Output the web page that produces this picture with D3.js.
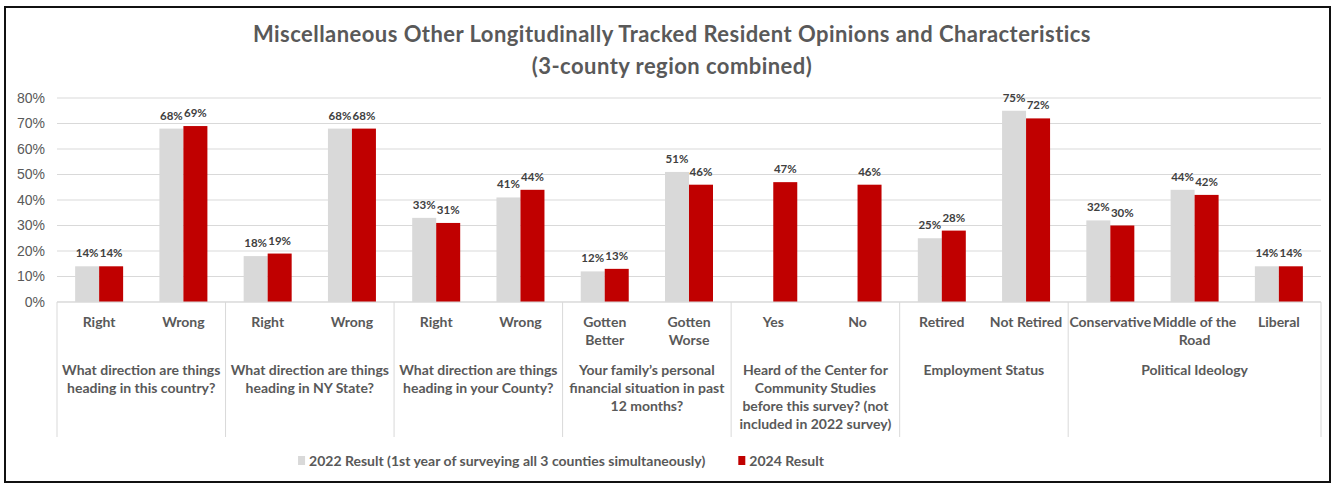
<!DOCTYPE html>
<html>
<head>
<meta charset="utf-8">
<script src="https://cdn.jsdelivr.net/npm/d3@7"></script>
<style>
  body { margin: 0; background: #fff; }
  svg { display: block; }
</style>
</head>
<body>
<script>
// ---- data ----
const categories = ["Right", "Wrong", "Right", "Wrong", "Right", "Wrong",
  "Gotten\nBetter", "Gotten\nWorse", "Yes", "No", "Retired", "Not Retired",
  "Conservative", "Middle of the\nRoad", "Liberal"];
const groups = [
  "What direction are things\nheading in this country?",
  "What direction are things\nheading in NY State?",
  "What direction are things\nheading in your County?",
  "Your family\u2019s personal\nfinancial situation in past\n12 months?",
  "Heard of the Center for\nCommunity Studies\nbefore this survey? (not\nincluded in 2022 survey)",
  "Employment Status",
  "Political Ideology"
];
const groupSizes = [2, 2, 2, 2, 2, 2, 3];
const series = ["2022 Result (1st year of surveying all 3 counties simultaneously)", "2024 Result"];
const values2022 = [14, 68, 18, 68, 33, 41, 12, 51, null, null, 25, 75, 32, 44, 14];
const values2024 = [14, 69, 19, 68, 31, 44, 13, 46, 47, 46, 28, 72, 30, 42, 14];
const yTicks = [0, 10, 20, 30, 40, 50, 60, 70, 80];
const titleLines = ["Miscellaneous Other Longitudinally Tracked Resident Opinions and Characteristics",
  "(3-county region combined)"];

// ---- layout ----
const width = 1336, height = 485;
const colors = ["#d9d9d9", "#c00000"];
const textColor = "#595959";
const font = "Lato, 'Open Sans', sans-serif";

const svg = d3.select("body").append("svg")
  .attr("width", width)
  .attr("height", height);

svg.append("rect")
  .attr("x", 5).attr("y", 7)
  .attr("width", 1325).attr("height", 475)
  .attr("fill", "#fff")
  .attr("stroke", "#111")
  .attr("stroke-width", 2);

// title
svg.append("g").selectAll("text")
  .data(titleLines)
  .enter().append("text")
  .attr("x", 672)
  .attr("y", (d, i) => 42 + i * 32)
  .attr("text-anchor", "middle")
  .attr("font-family", font)
  .attr("font-weight", "bold")
  .attr("font-size", 22)
  .attr("letter-spacing", 0.45)
  .attr("fill", textColor)
  .text(d => d);

const idx = d3.range(categories.length);
const x = d3.scaleBand().domain(idx).range([57, 1321]);
const bw = x.bandwidth();
const xs = d3.scaleBand().domain([0, 1]).range([bw / 2 - 24, bw / 2 + 24]);
const y = d3.scaleLinear().domain([0, 80]).range([302, 98]);

// gridlines
svg.append("g").selectAll("line")
  .data(yTicks)
  .enter().append("line")
  .attr("x1", 57).attr("x2", 1321)
  .attr("y1", d => y(d)).attr("y2", d => y(d))
  .attr("stroke", "#d9d9d9")
  .attr("stroke-width", 1);

// y axis labels
const yAxis = svg.append("g")
  .attr("transform", "translate(45,0)")
  .call(d3.axisLeft(y).tickValues(yTicks).tickSize(0).tickFormat(d => d + "%"));
yAxis.select(".domain").remove();
yAxis.selectAll("text")
  .attr("font-family", "'Liberation Sans', Arial, sans-serif")
  .attr("font-size", 14)
  .attr("fill", textColor)
  .attr("x", 0);

// bars
const allSeries = [values2022, values2024];
const barData = [];
idx.forEach(i => {
  allSeries.forEach((vals, s) => {
    if (vals[i] != null) barData.push({ i: i, s: s, v: vals[i] });
  });
});

svg.append("g").selectAll("rect")
  .data(barData)
  .enter().append("rect")
  .attr("x", d => x(d.i) + xs(d.s))
  .attr("y", d => y(d.v))
  .attr("width", xs.bandwidth())
  .attr("height", d => y(0) - y(d.v))
  .attr("fill", d => colors[d.s]);

// data labels
svg.append("g").selectAll("text")
  .data(barData)
  .enter().append("text")
  .attr("x", d => x(d.i) + xs(d.s) + xs.bandwidth() / 2)
  .attr("y", d => y(d.v) - 9)
  .attr("text-anchor", "middle")
  .attr("font-family", font)
  .attr("font-weight", "bold")
  .attr("font-size", 11.5)
  .attr("fill", "#404040")
  .text(d => d.v + "%");

// category labels
const catG = svg.append("g").selectAll("text")
  .data(idx)
  .enter().append("text")
  .attr("text-anchor", "middle")
  .attr("font-family", font)
  .attr("font-weight", "bold")
  .attr("font-size", 14)
  .attr("fill", textColor);
catG.each(function (i) {
  const lines = categories[i].split("\n");
  d3.select(this).selectAll("tspan")
    .data(lines)
    .enter().append("tspan")
    .attr("x", x(i) + bw / 2)
    .attr("y", (d, k) => 327 + k * 18)
    .text(d => d);
});

// group boundaries and labels
const bounds = [0];
groupSizes.forEach(n => bounds.push(bounds[bounds.length - 1] + n));
const sepX = bounds.map(b => b < categories.length ? x(b) : x(categories.length - 1) + bw);

svg.append("line")
  .attr("x1", 57).attr("x2", 1321)
  .attr("y1", y(0)).attr("y2", y(0))
  .attr("stroke", "#d9d9d9");

svg.append("g").selectAll("line")
  .data(sepX)
  .enter().append("line")
  .attr("x1", d => d).attr("x2", d => d)
  .attr("y1", y(0)).attr("y2", 437)
  .attr("stroke", "#d9d9d9");

const grpG = svg.append("g").selectAll("text")
  .data(groups)
  .enter().append("text")
  .attr("text-anchor", "middle")
  .attr("font-family", font)
  .attr("font-weight", "bold")
  .attr("font-size", 14)
  .attr("fill", textColor);
grpG.each(function (g, gi) {
  const cx = (sepX[gi] + sepX[gi + 1]) / 2;
  d3.select(this).selectAll("tspan")
    .data(g.split("\n"))
    .enter().append("tspan")
    .attr("x", cx)
    .attr("y", (d, k) => 375 + k * 18)
    .text(d => d);
});

// legend, laid out from measured text widths and centred like the original
const legendCenter = 561;
const leg = svg.append("g").selectAll("g")
  .data(series)
  .enter().append("g");
leg.append("rect")
  .attr("y", 456)
  .attr("width", 7).attr("height", 9)
  .attr("fill", (d, i) => colors[i]);
leg.append("text")
  .attr("x", 11).attr("y", 466)
  .attr("font-family", font)
  .attr("font-weight", "bold")
  .attr("font-size", 14)
  .attr("fill", textColor)
  .text(d => d);
const itemW = [];
leg.each(function () { itemW.push(11 + d3.select(this).select("text").node().getComputedTextLength()); });
const gap = 33;
let lx = legendCenter - (d3.sum(itemW) + gap) / 2;
leg.each(function (d, i) {
  d3.select(this).attr("transform", "translate(" + lx + ",0)");
  lx += itemW[i] + gap;
});
</script>
</body>
</html>
